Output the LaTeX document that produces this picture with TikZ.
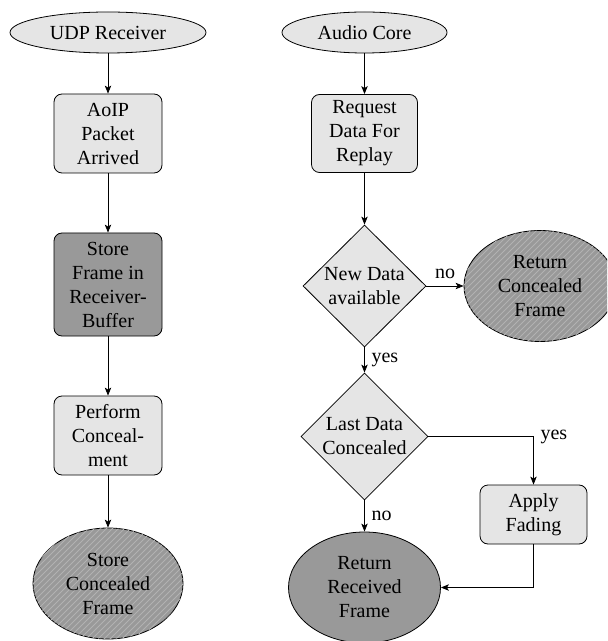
\documentclass[tikz,border=0pt]{standalone}
\usepackage{fontspec}
\setmainfont{Liberation Serif}
\usetikzlibrary{shapes.geometric,arrows.meta,patterns}
\begin{document}
\begin{tikzpicture}[x=0.5pt,y=-0.5pt,
  every node/.style={font=\normalsize},
  procbox/.style={draw, rounded corners=4pt, fill=gray!20, align=center, inner sep=1pt},
  darkbox/.style={procbox, fill=gray!80},
  startell/.style={draw, ellipse, fill=gray!20, inner sep=0pt, minimum height=20.5pt, align=center},
  endell/.style={draw, ellipse, fill=gray!80, inner sep=0pt, minimum width=76pt, minimum height=55.5pt, align=center},
  hatchell/.style={endell, postaction={pattern=north east lines, pattern color=gray!60}},
  decision/.style={draw, diamond, aspect=1, fill=gray!20, inner sep=-1pt, align=center},
  arr/.style={draw, -{Stealth[length=4pt,width=3.2pt,inset=1pt]}},
  lbl/.style={font=\normalsize, inner sep=3.3pt}
]
\useasboundingbox (0,0) rectangle (607,641);
\clip (0,0) rectangle (607,641);

% left column
\node[startell, minimum width=98pt] (udp) at (108,32.5) {UDP Receiver};
\node[procbox, minimum width=54pt, minimum height=39.5pt] (aoip) at (108,133.5) {AoIP\\Packet\\Arrived};
\node[darkbox, minimum width=54pt, minimum height=51.5pt] (store) at (108,284.5) {Store\\Frame in\\Receiver-\\Buffer};
\node[procbox, minimum width=54pt, minimum height=39.5pt] (perform) at (108,435.5) {Perform\\Conceal-\\ment};
\node[hatchell, minimum width=75pt] (sconc) at (108,583.5) {Store\\Concealed\\Frame};

% right column
\node[startell, minimum width=82.5pt] (core) at (364.5,32.5) {Audio Core};
\node[procbox, minimum width=53pt, minimum height=39pt] (req) at (364.5,133.5) {Request\\Data For\\Replay};
\node[decision, minimum width=61.5pt, minimum height=61pt] (newd) at (364.5,286) {New Data\\available};
\node[hatchell] (rconc) at (540,286) {Return\\Concealed\\Frame};
\node[decision, minimum width=63.5pt, minimum height=63.5pt] (last) at (364.5,436.5) {Last Data\\Concealed};
\node[procbox, minimum width=53.5pt, minimum height=29.5pt] (fade) at (533.5,514.5) {Apply\\Fading};
\node[endell] (rrecv) at (364.5,587.5) {Return\\Received\\Frame};

% connectors
\path[arr] (udp) -- (aoip);
\path[arr] (aoip) -- (store);
\path[arr] (store) -- (perform);
\path[arr] (perform) -- (sconc);

\path[arr] (core) -- (req);
\path[arr] (req) -- (newd);
\path[arr] (newd) -- node[lbl, above] {no} (rconc);
\path[arr] (newd) -- node[lbl, right] {yes} (last);
\path[arr] (last.east) -| node[lbl, right, pos=0.5] {yes} (fade.north);
\path[arr] (last) -- node[lbl, right] {no} (rrecv);
\path[arr] (fade.south) |- (rrecv.east);
\end{tikzpicture}
\end{document}
